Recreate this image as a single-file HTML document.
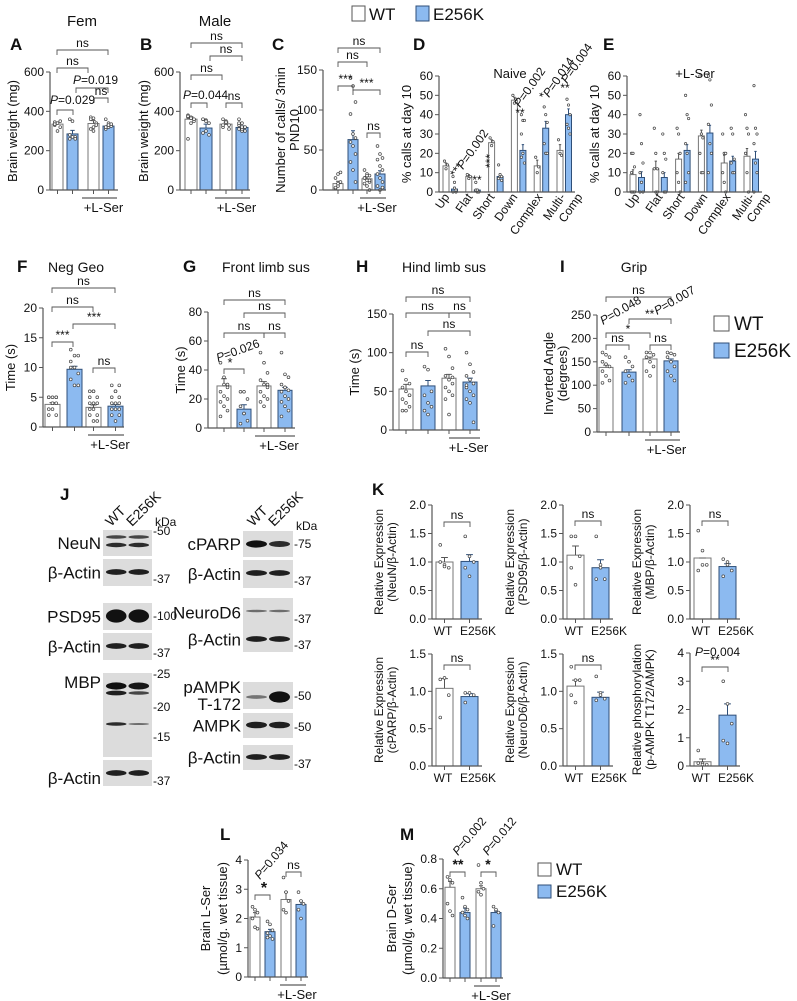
<!DOCTYPE html>
<html><head><meta charset="utf-8">
<style>
html,body{margin:0;padding:0;background:#fff;}
svg{display:block;font-family:"Liberation Sans",sans-serif;}
</style></head>
<body>
<svg id="fig" width="797" height="1001" viewBox="0 0 797 1001" xmlns="http://www.w3.org/2000/svg"></svg>
<script>
// ---------- DATA ----------
const groups4 = ["WT","E256K","WT +L-Ser","E256K +L-Ser"];
const A_vals=[335,285,338,325]; const A_err=[10,18,15,5];
const A_dots=[[330,340,350,345,300,320,335],[360,350,270,260,270,260,280],[370,365,340,310,300,330,360,320],[360,340,330,320,320,325,310,330,335,320]];
const B_vals=[360,315,335,318]; const B_err=[12,20,10,8];
const B_dots=[[380,370,360,370,365,350,260,340,360,375],[360,355,340,290,300,280,360,350],[360,350,330,320,340,310,330,345],[360,340,320,310,300,320,330,310,300,340,320]];
const C_vals=[8,63,14,20]; const C_err=[3,11,3,4];
const C_dots=[[2,5,10,15,20,22,3,8],[140,130,110,95,70,65,60,55,45,35,25,10],[25,20,18,15,12,10,8,5,12,15,18,0],[55,45,40,38,30,25,20,15,10,5,0,3]];
const callCats=["Up","Flat","Short","Down","Complex","Multi-","Comp"];
const D_wt=[13.5,8,25.5,47.5,13.5,21.5]; const D_e=[1.5,1,8,21.5,33,40];
const D_wtErr=[1.5,1,1.5,1.5,3,3]; const D_eErr=[1,0.5,1,3,3.5,3];
const D_wtDots=[[16,12,14],[9,7,8],[28,24,26],[50,46,48],[18,10,13],[27,20,19]];
const D_eDots=[[8,5,0,0,2,1],[5,0,0,1,1],[14,8,6,7,9,8],[40,37,37,30,20,15,18],[44,40,36,25,20,20],[48,45,40,35,33,30]];
const E_wt=[9,12,17,29,15,18.5]; const E_e=[7.5,7.5,21.5,30.5,16,17];
const E_wtErr=[2.5,4,3,3,4,4]; const E_eErr=[3,2.5,3,4,2.5,4];
const E_wtDots=[[20,20,13,0,0,0,10],[33,20,12,12,0,0],[33,30,20,10,5,0],[60,30,28,20,10,10],[30,20,20,10,5,0],[40,33,30,20,10,0]];
const E_eDots=[[40,25,15,10,5,0,0],[30,20,17,10,0,0],[50,40,38,25,20,10,5],[60,58,45,35,25,20,10],[33,30,17,15,10,10],[55,33,30,25,15,10,0]];
const F_vals=[3.8,9.7,3.3,3.5]; const F_err=[0.3,0.5,0.4,0.3];
const F_dots=[[5,5,5,5,4,4,3,3,2,2,4,5],[13,12,12,10,10,9,8,7,7,11],[6,6,5,5,4,4,3,3,2,2,1,1,4,6],[7,6,5,5,4,4,3,3,2,2,1,3,4,6,7]];
const G_vals=[29,13,29,26]; const G_err=[5,3,3,2];
const G_dots=[[45,35,30,25,22,20,18,15,12,8,30,28],[25,25,20,15,10,5,3,10],[52,45,38,33,30,28,25,22,20,18,15,30],[52,37,35,30,28,26,25,22,20,18,15,12,8,28]];
const H_vals=[53,57,67,62]; const H_err=[6,7,5,5];
const H_dots=[[77,65,60,55,50,45,40,35,30,25,25,45],[82,78,50,45,35,30,25,20],[105,95,80,70,65,60,55,50,45,40,20,68],[100,85,75,70,65,60,55,50,45,40,35,10,58]];
const I_vals=[138,128,156,152]; const I_err=[5,5,4,4];
const I_dots=[[170,165,160,150,145,140,130,120,110,105],[160,150,140,130,120,110,105],[170,170,165,160,150,140,130,120],[170,168,165,160,150,140,130,120,110]];
const K_labels=["WT","E256K"];
const K1_vals=[1.0,1.01]; const K1_err=[0.08,0.12]; const K1_dots=[[1.3,0.95,0.9,1.0,0.92],[1.45,1.1,1.0,0.9,0.75]];
const K2_vals=[1.12,0.9]; const K2_err=[0.16,0.14]; const K2_dots=[[1.45,1.45,1.1,0.9,0.6],[1.45,0.95,0.7,0.7,0.9]];
const K3_vals=[1.07,0.92]; const K3_err=[0.0,0.05]; const K3_dots=[[1.55,1.2,0.95,0.85,0.95],[1.05,0.95,0.85,0.75,1.0]];
const K4_vals=[1.04,0.93]; const K4_err=[0.13,0.04]; const K4_dots=[[1.16,1.18,0.95,0.65],[0.98,0.98,0.95,0.85]];
const K5_vals=[1.07,0.92]; const K5_err=[0.08,0.07]; const K5_dots=[[1.33,1.15,1.15,0.95,0.85],[1.2,0.98,0.9,0.88,0.95]];
const K6_vals=[0.15,1.8]; const K6_err=[0.1,0.4]; const K6_dots=[[0.55,0.1,0.05,0.1,0.05],[3.0,2.2,1.5,0.9,0.8]];
const L_vals=[2.05,1.55,2.65,2.48]; const L_err=[0.15,0.08,0.25,0.12];
const L_dots=[[2.4,2.3,2.2,2.0,1.7,1.65],[1.9,1.8,1.6,1.5,1.4,1.3,1.35],[3.4,2.9,2.6,2.3,2.2],[2.9,2.6,2.5,2.3,2.0]];
const M_vals=[0.61,0.44,0.6,0.44]; const M_err=[0.04,0.03,0.02,0.01];
const M_dots=[[0.68,0.66,0.64,0.5,0.45,0.42],[0.54,0.48,0.46,0.44,0.42,0.4],[0.76,0.64,0.6,0.58,0.56],[0.48,0.46,0.44,0.35]];

// ---------- HELPERS ----------
const NS="http://www.w3.org/2000/svg";
const svg=document.getElementById('fig');
const BLUE="#8cbaf0", BSTROKE="#2f4f78", GRAY="#555";
function el(tag,attrs,parent){const e=document.createElementNS(NS,tag);for(const k in attrs)e.setAttribute(k,attrs[k]);(parent||svg).appendChild(e);return e;}
function txt(x,y,s,size,opts,parent){opts=opts||{};const t=el('text',{x:x,y:y,'font-size':size,fill:opts.fill||'#111','text-anchor':opts.anchor||'start','font-weight':opts.bold?'bold':'normal','font-style':opts.italic?'italic':'normal'},parent);
if(opts.rot!==undefined)t.setAttribute('transform','rotate('+opts.rot+' '+x+' '+y+')');t.textContent=s;return t;}
function bracket(x1,x2,y,d,label,parent,lsize){el('path',{d:'M'+x1+' '+(y+d)+'V'+y+'H'+x2+'V'+(y+d),fill:'none',stroke:GRAY,'stroke-width':0.9},parent);
 if(label){const t=txt((x1+x2)/2,y-3,label,lsize||12,{anchor:'middle'},parent);}}
function ptxt(x,y,val,size,rot,parent){const t=el('text',{x:x,y:y,'font-size':size,fill:'#111',transform:rot?'rotate('+rot+' '+x+' '+y+')':''},parent);
 const a=document.createElementNS(NS,'tspan');a.setAttribute('font-style','italic');a.textContent='P';t.appendChild(a);
 const b=document.createElementNS(NS,'tspan');b.textContent='='+val;t.appendChild(b);
 return t;}

function panel(o){
 const g=el('g',{});
 
 
 const sy=v=>o.yBot-(v/o.ymax)*(o.yBot-o.yTop);
 o.vals.forEach((v,i)=>{
  const x0=o.bx[i], w=o.bw, blue=o.colors[i]==='b';
  const r=el('rect',{x:x0,y:sy(v),width:w,height:o.yBot-sy(v),fill:blue?BLUE:'#fff',stroke:blue?BSTROKE:'#777','stroke-width':1},g);
  
  
  const cx=x0+w/2;
  if(o.err){const e=o.err[i];el('path',{d:'M'+cx+' '+sy(v)+'V'+sy(v+e)+'M'+(cx-w*0.2)+' '+sy(v+e)+'H'+(cx+w*0.2),stroke:blue?BSTROKE:'#555','stroke-width':1,fill:'none'},g);}
  if(o.dots){const ds=o.dots[i];ds.forEach((d,j)=>{const off=((j%3)-1)*w*0.25;
   const c=el('circle',{cx:cx+off,cy:sy(d),r:o.dr||1.4,fill:'#fff',stroke:'#444','stroke-width':0.7},g);
   });}
  if(!o.noXt)el('line',{x1:cx,x2:cx,y1:o.yBot,y2:o.yBot+4,stroke:GRAY,'stroke-width':1},g);
 });
 el('line',{x1:o.ax,x2:o.ax,y1:o.yTop,y2:o.yBot,stroke:GRAY,'stroke-width':1.2},g);
 el('line',{x1:o.ax,x2:o.axEnd,y1:o.yBot,y2:o.yBot,stroke:GRAY,'stroke-width':1.2},g);
 o.ticks.forEach((t,i)=>{const y=sy(t);el('line',{x1:o.ax-4,x2:o.ax,y1:y,y2:y,stroke:GRAY,'stroke-width':1},g);
  const lt=txt(o.ax-6,y+4,o.tickLabels?o.tickLabels[i]:String(t),o.fs||12,{anchor:'end'},g);
  });
 (o.title||[]).forEach((s,i)=>{const t=txt(o.titleX[i],(o.yTop+o.yBot)/2,s,o.tfs||13,{anchor:'middle',rot:-90},g);
  });
 if(o.lser){el('line',{x1:o.lser[0],x2:o.lser[1],y1:o.yBot+8,y2:o.yBot+8,stroke:'#333','stroke-width':1},g);
  const t=txt((o.lser[0]+o.lser[1])/2+4,o.yBot+22,'+L-Ser',13,{anchor:'middle'},g);}
 return {g:g,sy:sy};
}
function letter(x,y,s){const t=txt(x,y,s,17,{bold:true});}
function legend(x,y,gap,size,fs){
 const g=el('g',{});
 const a=el('rect',{x:x,y:y,width:size,height:size,fill:'#fff',stroke:'#555','stroke-width':1},g);
 
 txt(x+size+5,y+size-1,'WT',fs,{},g);
 const b=el('rect',{x:x,y:y+gap,width:size,height:size,fill:BLUE,stroke:BSTROKE,'stroke-width':1},g);
 
 txt(x+size+5,y+gap+size-1,'E256K',fs,{},g);
}

// ---------- TOP LEGEND ----------
(function(){const g=el('g',{});
 el('rect',{x:352,y:6,width:13,height:15,fill:'#fff',stroke:'#555'},g);txt(369,20,'WT',17,{},g);
 el('rect',{x:416,y:6,width:13,height:15,fill:BLUE,stroke:BSTROKE},g);txt(433,20,'E256K',17,{},g);})();

// ---------- A ----------
letter(10,50,'A');txt(82,26,'Fem',15,{anchor:'middle'});
let p=panel({name:'panel-a-chart',ax:50,axEnd:118,yTop:72,yBot:190,ymax:600,ticks:[0,200,400,600],vals:A_vals,err:A_err,dots:A_dots,bx:[52,67,88,103],bw:11,colors:['w','b','w','b'],cats:groups4,title:['Brain weight (mg)'],titleX:[17],lser:[82,117]});
bracket(57,108,50,5,'ns',p.g);bracket(57,88,68,5,'ns',p.g);bracket(57,73,110,5,'',p.g);ptxt(50,104,'0.029',12);
bracket(76,108,88,5,'',p.g);ptxt(73,84,'0.019',12);bracket(94,108,98,5,'ns',p.g);

// ---------- B ----------
letter(140,50,'B');txt(215,26,'Male',15,{anchor:'middle'});
p=panel({name:'panel-b-chart',ax:180,axEnd:250,yTop:72,yBot:190,ymax:600,ticks:[0,200,400,600],vals:B_vals,err:B_err,dots:B_dots,bx:[185,200,220,236],bw:12,colors:['w','b','w','b'],cats:groups4,title:['Brain weight (mg)'],titleX:[148],lser:[215,250]});
bracket(191,242,43,5,'ns',p.g);bracket(210,242,56,5,'ns',p.g);bracket(191,222,75,5,'ns',p.g);
bracket(191,207,103,5,'',p.g);ptxt(183,99,'0.044',12);bracket(226,242,103,5,'ns',p.g);

// ---------- C ----------
letter(272,50,'C');
p=panel({name:'panel-c-chart',ax:323,axEnd:386,yTop:70,yBot:190,ymax:150,ticks:[0,50,100,150],vals:C_vals,err:C_err,dots:C_dots,bx:[333,348,362,375],bw:10,colors:['w','b','w','b'],cats:groups4,title:['Number of calls/ 3min','PND10'],titleX:[285,299],lser:[360,386]});
bracket(338,380,48,5,'ns',p.g);bracket(338,367,62,5,'ns',p.g);bracket(338,353,86,5,'***',p.g);
bracket(353,380,90,5,'***',p.g);bracket(367,380,133,5,'ns',p.g);

// ---------- D ----------
letter(413,50,'D');txt(510,78,'Naive',13,{anchor:'middle'});
function groupedBars(name,ax,wt,e,wtE,eE,wtD,eD,x0){
 const vals=[],err=[],dots=[],bx=[],cols=[],cats=[];
 wt.forEach((v,g)=>{vals.push(v);err.push(wtE[g]);dots.push(wtD[g]);bx.push(x0+g*22.8);cols.push('w');cats.push(callCats[g]+'-wt');
  vals.push(e[g]);err.push(eE[g]);dots.push(eD[g]);bx.push(x0+g*22.8+8.5);cols.push('b');cats.push(callCats[g]+'-e256k');});
 return {vals,err,dots,bx,cols,cats};
}
let gd=groupedBars('d',439,D_wt,D_e,D_wtErr,D_eErr,D_wtDots,D_eDots,443);
p=panel({name:'panel-d-chart',ax:439,axEnd:575,yTop:76,yBot:192,ymax:60,ticks:[0,10,20,30,40,50,60],vals:gd.vals,err:gd.err,dots:gd.dots,bx:gd.bx,bw:6,colors:gd.cols,cats:gd.cats,dr:1.2,noXt:true,title:['% calls at day 10'],titleX:[411]});
[447,470,492,515,540,563,580].forEach((x,i)=>{const t=txt(x+3,197,callCats[i],12,{anchor:'end',rot:-55});});
txt(456,178,'***',12,{rot:-55});ptxt(463,170,'0.002',12,-55);txt(477,184,'**',12,{anchor:'middle'});
txt(494,168,'***',12,{rot:-90});txt(520,117,'**',12,{anchor:'middle'});ptxt(520,108,'0.002',12,-55);
txt(545,100,'*',12,{rot:-55});ptxt(549,98,'0.014',12,-55);txt(565,92,'**',12,{anchor:'middle'});ptxt(567,84,'0.004',12,-55);

// ---------- E ----------
letter(603,50,'E');txt(695,78,'+L-Ser',13,{anchor:'middle'});
let ge=groupedBars('e',627,E_wt,E_e,E_wtErr,E_eErr,E_wtDots,E_eDots,630);
p=panel({name:'panel-e-chart',ax:627,axEnd:762,yTop:76,yBot:192,ymax:60,ticks:[0,10,20,30,40,50,60],vals:ge.vals,err:ge.err,dots:ge.dots,bx:ge.bx,bw:6,colors:ge.cols,cats:ge.cats,dr:1.2,noXt:true,title:['% calls at day 10'],titleX:[599]});
[637,660,682,705,728,752,768].forEach((x,i)=>{const t=txt(x+3,197,callCats[i],12,{anchor:'end',rot:-55});});

// ---------- F ----------
letter(17,272,'F');txt(48,272,'Neg Geo',14);
p=panel({name:'panel-f-chart',ax:43,axEnd:124,yTop:308,yBot:427,ymax:20,ticks:[0,5,10,15,20],vals:F_vals,err:F_err,dots:F_dots,bx:[45,67,86,108],bw:15,colors:['w','b','w','b'],cats:groups4,title:['Time (s)'],titleX:[15],lser:[88,124]});
bracket(52,115,288,5,'ns',p.g);bracket(52,93,307,5,'ns',p.g);bracket(73,115,324,5,'***',p.g);
bracket(52,73,342,5,'***',p.g);bracket(93,115,368,5,'ns',p.g);

// ---------- G ----------
letter(183,272,'G');txt(222,272,'Front limb sus',14);
p=panel({name:'panel-g-chart',ax:208,axEnd:295,yTop:312,yBot:428,ymax:80,ticks:[0,20,40,60,80],vals:G_vals,err:G_err,dots:G_dots,bx:[217,237,257,278],bw:14,colors:['w','b','w','b'],cats:groups4,title:['Time (s)'],titleX:[185],lser:[255,295]});
bracket(224,285,300,5,'ns',p.g);bracket(244,285,313,5,'ns',p.g);bracket(224,264,333,5,'ns',p.g);bracket(264,285,333,5,'ns',p.g);
bracket(224,244,369,5,'',p.g);txt(230,367,'*',13,{anchor:'middle'});ptxt(218,362,'0.026',12,-20);

// ---------- H ----------
letter(356,272,'H');txt(402,272,'Hind limb sus',14);
p=panel({name:'panel-h-chart',ax:393,axEnd:480,yTop:314,yBot:430,ymax:150,ticks:[0,50,100,150],vals:H_vals,err:H_err,dots:H_dots,bx:[399,421,442,463],bw:14,colors:['w','b','w','b'],cats:groups4,title:['Time (s)'],titleX:[359],lser:[449,480]});
bracket(406,470,297,5,'ns',p.g);bracket(406,449,313,5,'ns',p.g);bracket(449,470,313,5,'ns',p.g);
bracket(428,470,331,5,'ns',p.g);bracket(406,428,352,5,'ns',p.g);

// ---------- I ----------
letter(560,272,'I');txt(634,272,'Grip',14,{anchor:'middle'});
p=panel({name:'panel-i-chart',ax:597,axEnd:680,yTop:315,yBot:432,ymax:250,ticks:[0,50,100,150,200,250],vals:I_vals,err:I_err,dots:I_dots,bx:[599,622,643,664],bw:14,colors:['w','b','w','b'],cats:groups4,title:['Inverted Angle','(degrees)'],titleX:[553,567],lser:[645,680]});
bracket(606,671,297,5,'ns',p.g);bracket(606,650,333,5,'',p.g);txt(628,333,'*',12,{anchor:'middle'});
ptxt(603,325,'0.048',12,-30);bracket(629,671,319,5,'',p.g);txt(645,318,'**',12);ptxt(657,315,'0.007',12,-30);
bracket(606,629,345,5,'ns',p.g);bracket(650,671,345,5,'ns',p.g);
legend(714,316,27,15,19);

// ---------- J (blots) ----------
letter(60,500,'J');
function blot(name,x,y,w,h,bands,label,lx,marks){
 const g=el('g',{});
 el('rect',{x:x,y:y,width:w,height:h,fill:'#dcdcdc'},g);
 bands.forEach(b=>{[0,1].forEach(l=>{const inten=b.i[l];if(inten<=0)return;
  el('ellipse',{cx:x+w*(l?0.73:0.27),cy:y+b.y,rx:w*0.21,ry:b.h*inten/2+0.6,fill:'#111','fill-opacity':Math.min(1,0.35+inten*0.65)},g);});});
 if(label){label.split('\n').forEach((s,i,arr)=>txt(lx,y+h/2+6+(i-(arr.length-1)/2)*17,s,17,{anchor:'end'},g));}
 (marks||[]).forEach(m=>txt(x+w+1,y+m[0],'-'+m[1],12,{},g));
 return g;
}
const lanes=(x,y)=>{txt(x,y,'WT',14,{rot:-45});txt(x+21,y,'E256K',14,{rot:-45});};
lanes(111,527);txt(155,526,'kDa',12);lanes(253,527);txt(296,530,'kDa',12);
blot('blot-neun',103,530,49,26,[{y:7,h:4,i:[0.6,0.6]},{y:15,h:4,i:[0.8,0.8]}],'NeuN',101,[[5,'50']]);
blot('blot-actin-1',103,559,49,27,[{y:13,h:5,i:[0.9,0.9]}],'β-Actin',101,[[24,'37']]);
blot('blot-psd95',103,603,49,27,[{y:13,h:12,i:[1,1]}],'PSD95',101,[[17,'100']]);
blot('blot-actin-2',103,633,49,27,[{y:13,h:5,i:[0.9,0.9]}],'β-Actin',101,[[24,'37']]);
blot('blot-mbp',103,673,49,84,[{y:13,h:6,i:[1,0.95]},{y:20,h:4,i:[0.9,0.6]},{y:51,h:3,i:[0.8,0.3]}],'',101,[[5,'25'],[38,'20'],[68,'15']]);
txt(101,688,'MBP',17,{anchor:'end'});
blot('blot-actin-3',103,760,49,26,[{y:13,h:5,i:[0.9,0.9]}],'',101,[[25,'37']]);
txt(101,784,'β-Actin',17,{anchor:'end'});
blot('blot-cparp',243,531,50,26,[{y:13,h:6,i:[1,0.8]}],'cPARP',241,[[17,'75']]);
blot('blot-actin-4',243,560,50,28,[{y:13,h:5,i:[0.9,0.9]}],'β-Actin',241,[[25,'37']]);
blot('blot-neurod6',243,598,50,29,[{y:13,h:4,i:[0.3,0.3]}],'NeuroD6',241,[[25,'37']]);
blot('blot-actin-5',243,627,50,25,[{y:12,h:5,i:[0.9,0.9]}],'β-Actin',241,[[22,'37']]);
blot('blot-pampk',243,682,50,27,[{y:15,h:10,i:[0.25,1]}],'pAMPK\nT-172',241,[[18,'50']]);
blot('blot-ampk',243,713,50,25,[{y:12,h:6,i:[0.9,0.9]}],'AMPK',241,[[18,'50']]);
blot('blot-actin-6',243,745,50,25,[{y:12,h:5,i:[0.9,0.9]}],'β-Actin',241,[[23,'37']]);

// ---------- K ----------
letter(372,495,'K');
function kpanel(name,ax,yTop,yBot,ymax,ticks,tl,vals,err,dots,t1,t2,xlab){
 const q=panel({name:name,ax:ax,axEnd:ax+50,yTop:yTop,yBot:yBot,ymax:ymax,ticks:ticks,tickLabels:tl,vals:vals,err:err,dots:dots,bx:[ax+4,ax+29],bw:17,colors:['w','b'],cats:K_labels,fs:12,tfs:12,title:[t1,t2],titleX:[ax-49,ax-36]});
 if(xlab){const a=txt(ax+11,yBot+16,'WT',12,{anchor:'middle'});
  const b=txt(ax+46,yBot+16,'E256K',12,{anchor:'middle'});}
 return q;
}
const tk2=[0,0.5,1,1.5,2],tl2=['0.0','0.5','1.0','1.5','2.0'];
const tk15=[0,0.5,1,1.5],tl15=['0.0','0.5','1.0','1.5'];
p=kpanel('panel-k-neun-chart',432,505,619,2,tk2,tl2,K1_vals,K1_err,K1_dots,'Relative Expression','(NeuN/β-Actin)',true);bracket(444,470,522,5,'ns',p.g);
p=kpanel('panel-k-psd95-chart',563,505,619,2,tk2,tl2,K2_vals,K2_err,K2_dots,'Relative Expression','(PSD95/β-Actin)',true);bracket(575,601,521,5,'ns',p.g);
p=kpanel('panel-k-mbp-chart',690,505,619,2,tk2,tl2,K3_vals,K3_err,K3_dots,'Relative Expression','(MBP/β-Actin)',true);bracket(702,728,521,5,'ns',p.g);
p=kpanel('panel-k-cparp-chart',432,654,766,1.5,tk15,tl15,K4_vals,K4_err,K4_dots,'Relative Expression','(cPARP/β-Actin)',true);bracket(444,470,665,5,'ns',p.g);
p=kpanel('panel-k-neurod6-chart',563,654,766,1.5,tk15,tl15,K5_vals,K5_err,K5_dots,'Relative Expression','(NeuroD6/β-Actin)',true);bracket(575,601,665,5,'ns',p.g);
p=kpanel('panel-k-pampk-chart',690,653,766,4,[0,1,2,3,4],['0','1','2','3','4'],K6_vals,K6_err,K6_dots,'Relative phosphorylation','(p-AMPK T172/AMPK)',true);
bracket(702,728,667,5,'**',p.g);ptxt(695,656,'0.004',12);

// ---------- L ----------
letter(220,840,'L');
p=panel({name:'panel-l-chart',ax:248,axEnd:308,yTop:860,yBot:977,ymax:4,ticks:[0,1,2,3,4],vals:L_vals,err:L_err,dots:L_dots,bx:[250,265,281,296],bw:10,colors:['w','b','w','b'],cats:groups4,title:['Brain L-Ser','(µmol/g. wet tissue)'],titleX:[210,227],lser:[280,306]});
bracket(255,270,895,5,'',p.g);txt(264,893,'*',16,{anchor:'middle',bold:true});ptxt(260,880,'0.034',12,-50);bracket(286,301,872,5,'ns',p.g);

// ---------- M ----------
letter(400,840,'M');
p=panel({name:'panel-m-chart',ax:443,axEnd:503,yTop:859,yBot:978,ymax:0.8,ticks:[0,0.2,0.4,0.6,0.8],tickLabels:['0.0','0.2','0.4','0.6','0.8'],vals:M_vals,err:M_err,dots:M_dots,bx:[445,460,476,491],bw:10,colors:['w','b','w','b'],cats:groups4,title:['Brain D-Ser','(µmol/g. wet tissue)'],titleX:[396,412],lser:[474,500]});
bracket(450,465,872,5,'',p.g);txt(458,869,'**',14,{anchor:'middle',bold:true});ptxt(458,856,'0.002',12,-50);
bracket(481,496,872,5,'',p.g);txt(488,869,'*',14,{anchor:'middle',bold:true});ptxt(488,856,'0.012',12,-50);
legend(538,863,22,13,17);
</script>
</body></html>
